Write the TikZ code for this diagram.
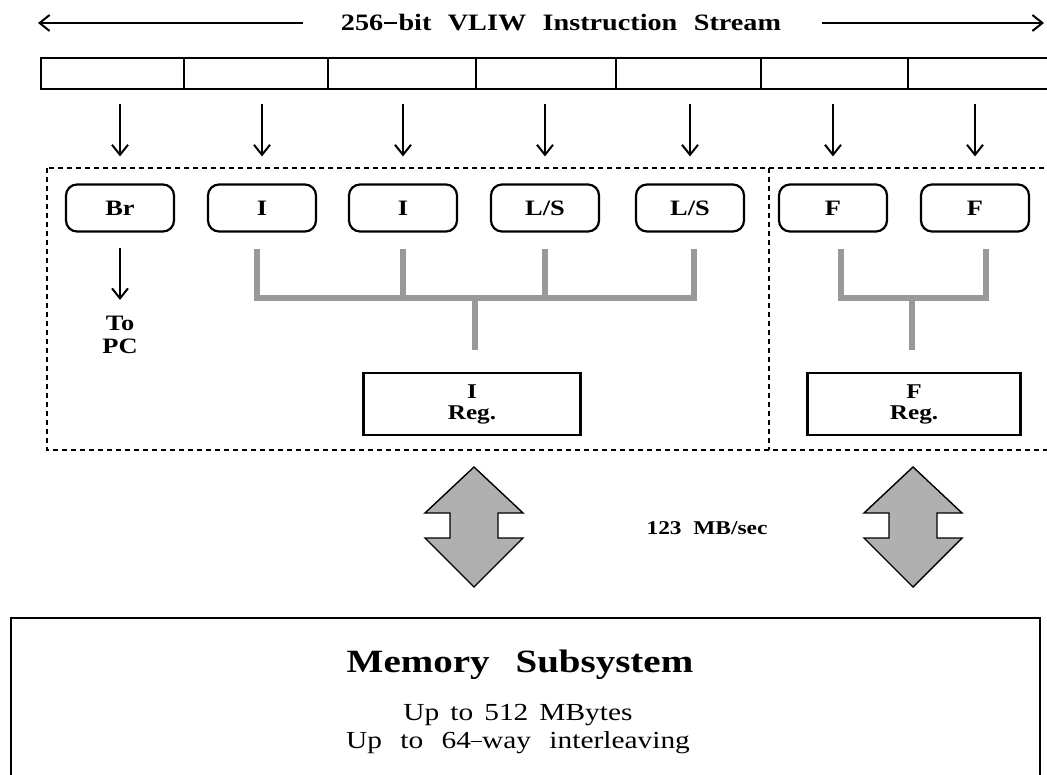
\documentclass[tikz,border=0pt]{standalone}
\usepackage{fontspec}
\setmainfont{Liberation Serif}[FakeStretch=1.2]
\usetikzlibrary{arrows.meta,calc}

\tikzset{
  lbl/.style={font=\fontsize{22}{22}\selectfont\bfseries, inner sep=0pt},
  unit/.style={draw, line width=2.2pt, rounded corners=11pt, minimum width=108pt,
    minimum height=47pt, inner sep=0pt, lbl},
  cell/.style={draw, line width=2.1pt, minimum height=31pt, inner sep=0pt, anchor=north west},
  feed/.style={line width=2pt, -{Straight Barb[length=10pt,width=16pt,line width=2pt]}},
  bus/.style={line width=6pt, draw=gray!80},
  regbox/.style={draw, line width=2.2pt, minimum height=62pt, inner sep=0pt,
    align=center, font=\fontsize{21}{21}\selectfont\bfseries},
  panel/.style={draw, line width=1.2pt, dash pattern=on 5pt off 4pt},
  bigarrow/.pic={
    \path[draw, line width=1.4pt, fill=gray!62, line join=miter]
      (0,-60) -- (49,-14) -- (24,-14) -- (24,11) -- (49,11) -- (0,60)
      -- (-49,11) -- (-24,11) -- (-24,-14) -- (-49,-14) -- cycle;
  },
}

\begin{document}
\begin{tikzpicture}[x=1pt,y=-1pt]
  \useasboundingbox (0,0) rectangle (1047,775);
  \clip (0,0) rectangle (1047,775);

  % instruction word heading
  \node[font=\fontsize{23.5}{24}\selectfont\bfseries, inner sep=0pt] (title) at (561,23)
    {256\hskip0.05em\rule[0.3em]{0.55em}{0.09em}\hskip0.05em bit\hskip0.7em VLIW\hskip0.7em Instruction\hskip0.7em Stream};
  \coordinate (ltip) at (38,23);
  \coordinate (rtip) at (1044,23);
  \draw[feed] ([xshift=-38pt]title.west) -- (ltip);
  \draw[feed] ([xshift=41pt]title.east) -- (rtip);

  % the 256-bit word, split into seven fields
  \foreach \a/\b [count=\i] in {40/183,183/327,327/475,475/615,615/760,760/907,907/1060}
    \node[cell, minimum width=\b-\a] (c\i) at (\a,57) {};

  % function units
  \node[unit] (u1) at (120,208) {Br};
  \node[unit] (u2) at (262,208) {I};
  \node[unit] (u3) at (403,208) {I};
  \node[unit] (u4) at (545,208) {L/S};
  \node[unit] (u5) at (690,208) {L/S};
  \node[unit] (u6) at (833,208) {F};
  \node[unit] (u7) at (975,208) {F};

  % one field feeds each unit
  \foreach \i in {1,...,7}
    \draw[feed] ($(c1.south -| u\i.north)+(0,14)$) -- ($(u\i.north)+(0,-27)$);

  % branch unit output
  \node[lbl, align=center] (pc) at (120,335) {To\\[1pt]PC};
  \draw[feed] ($(u1.south)+(0,15)$) -- ($(pc.north)+(0,-16)$);

  % register files
  \node[regbox, minimum width=217pt] (ireg) at (472,404) {I\\Reg.};
  \node[regbox, minimum width=213pt] (freg) at (914,404) {F\\Reg.};

  % integer / load-store bus
  \coordinate (ib) at (475,297);
  \draw[bus] ($(u2.south)+(-5,16)$) |- ($(u5.south)+(4,65)$) -- ($(u5.south)+(4,16)$);
  \draw[bus] ($(u3.south)+(0,16)$) -- ($(u3.south)+(0,65)$);
  \draw[bus] ($(u4.south)+(0,16)$) -- ($(u4.south)+(0,65)$);
  \draw[bus] (ib) -- ($(ireg.north)+(3,-22)$);

  % floating point bus
  \coordinate (fb) at (912,297);
  \draw[bus] ($(u6.south)+(8,16)$) |- ($(u7.south)+(11,65)$) -- ($(u7.south)+(11,16)$);
  \draw[bus] (fb) -- ($(freg.north)+(-2,-22)$);

  % cluster outlines
  \draw[panel] (47,168) rectangle (1060,450);
  \draw[panel] (769,168) -- (769,450);

  % memory traffic
  \pic at (474,527) {bigarrow};
  \pic at (913,527) {bigarrow};
  \node[font=\fontsize{19.5}{20}\selectfont\bfseries, inner sep=0pt] (bw) at (707,528) {123\hskip0.6em MB/sec};

  % memory subsystem
  \node[draw, line width=2.2pt, minimum width=1029pt, minimum height=190pt, anchor=north west, inner sep=0pt] (mem) at (10,617) {};
  \node[font=\fontsize{32.5}{34}\selectfont\bfseries, inner sep=0pt] (mtitle) at (520,665) {Memory\hskip0.8em Subsystem};
  \node[font=\fontsize{24.5}{28}\selectfont, align=center, inner sep=0pt] (mtext) at (518,729)
    {Up\hskip0.45em to\hskip0.45em 512\hskip0.45em MBytes\\Up\hskip0.75em to\hskip0.75em 64\rule[0.25em]{0.45em}{0.06em}way\hskip0.75em interleaving};
\end{tikzpicture}
\end{document}
